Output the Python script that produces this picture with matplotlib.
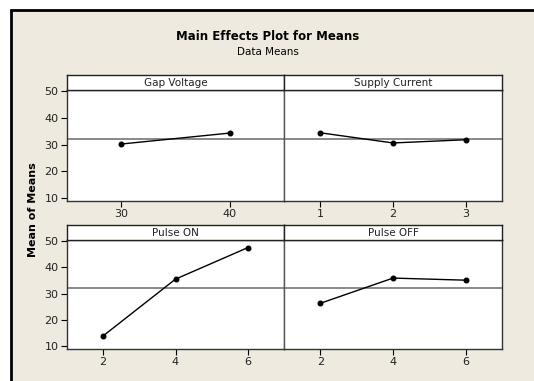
import matplotlib
matplotlib.use("Agg")
import matplotlib.pyplot as plt
from matplotlib.patches import Rectangle

plt.rcParams['font.family'] = ['DejaVu Sans']

factors = ["Gap Voltage", "Supply Current", "Pulse ON", "Pulse OFF"]
levels = {
    "Gap Voltage": ["30", "40"],
    "Supply Current": ["1", "2", "3"],
    "Pulse ON": ["2", "4", "6"],
    "Pulse OFF": ["2", "4", "6"],
}
means = {
    "Gap Voltage": [30.2, 34.3],
    "Supply Current": [34.4, 30.6, 31.8],
    "Pulse ON": [13.9, 35.5, 47.5],
    "Pulse OFF": [26.3, 35.9, 35.1],
}
grand_mean = 32.1
yticks = [10, 20, 30, 40, 50]

W, H = 534, 381
BG = "#EEEAE0"
fig = plt.figure(figsize=(W / 100, H / 100), dpi=100)
fig.patch.set_facecolor("white")

# outer frame (open at right/bottom like the cropped reference)
fig.patches.append(Rectangle((11 / W, -0.05), 1.1, 1.05 - 10 / H, transform=fig.transFigure,
                             facecolor=BG, edgecolor="black", linewidth=2.0, zorder=-10))

def box(x0, y0, x1, y1):
    return [x0 / W, 1 - y1 / H, (x1 - x0) / W, (y1 - y0) / H]

fig.text(268 / W, 1 - 37 / H, "Main Effects Plot for Means", ha="center", va="center",
         fontsize=8.5, fontweight="bold")
fig.text(268 / W, 1 - 52 / H, "Data Means", ha="center", va="center", fontsize=7.5)
fig.text(33 / W, 1 - 210 / H, "Mean of Means", ha="center", va="center", rotation=90,
         fontsize=8, fontweight="bold")

rows = [(75, 90, 201), (225, 240, 349)]
cols = [(67, 284), (284, 502)]

for i, f in enumerate(factors):
    r, c = divmod(i, 2)
    st, pt, pb = rows[r]
    x0, x1 = cols[c]
    ax = fig.add_axes(box(x0, pt, x1, pb))
    ax.set_facecolor("white")
    n = len(levels[f])
    xs = list(range(1, n + 1))
    ax.set_xlim(0.5, n + 0.5)
    ax.set_ylim(8.9, 50.4)
    ax.axhline(grand_mean, color="#808080", lw=1.3, zorder=1)
    ax.plot(xs, means[f], color="black", lw=1.0, marker="o", ms=3.3, zorder=3)
    ax.set_xticks(xs)
    ax.set_xticklabels(levels[f])
    ax.tick_params(axis="x", length=4, width=0.8, labelsize=8, pad=2, colors="black")
    ax.tick_params(axis="x", labelcolor="#222222")
    if c == 0:
        ax.set_yticks(yticks)
        ax.tick_params(axis="y", length=4, width=0.8, labelsize=8, pad=2, labelcolor="#222222")
    else:
        ax.set_yticks([])
    for side, sp in ax.spines.items():
        sp.set_linewidth(1.0)
        sp.set_color("#333333")
    if c == 0:
        ax.spines["right"].set_color("#555555")
    else:
        ax.spines["left"].set_color("#555555")
    # strip
    sax = fig.add_axes(box(x0, st, x1, pt))
    sax.set_facecolor("white")
    sax.set_xticks([])
    sax.set_yticks([])
    for sp in sax.spines.values():
        sp.set_linewidth(1.0)
        sp.set_color("#222222")
    sax.text(0.5, 0.5, f, transform=sax.transAxes, ha="center", va="center", fontsize=7.5,
             color="#222222")

fig.savefig("out.png", dpi=100, facecolor="white")
